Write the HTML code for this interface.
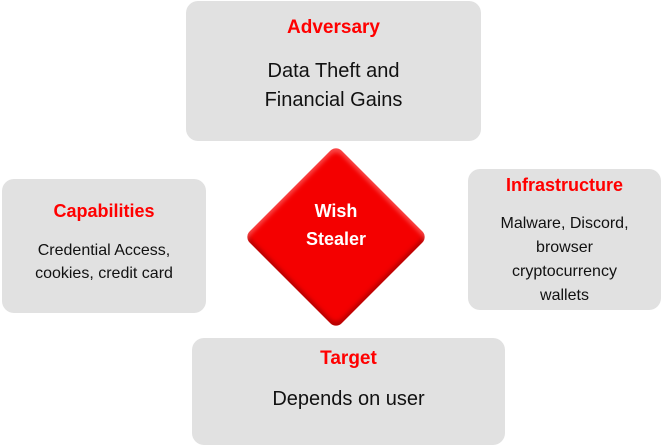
<!DOCTYPE html>
<html><head><style>
body{margin:0;width:662px;height:446px;background:#fff;position:relative;font-family:"Liberation Sans",sans-serif;overflow:hidden}
.b{position:absolute;background:#e1e1e1;border-radius:12px;text-align:center;color:#111}
.t{color:#f00;font-weight:bold;position:absolute;left:0;right:0}
.d{position:absolute;left:0;right:0}
</style></head><body>
<div class="b" style="left:186px;top:1px;width:295px;height:140px">
 <div class="t" style="top:16px;font-size:19px">Adversary</div>
 <div class="d" style="top:56px;font-size:20px;line-height:29px">Data Theft and<br>Financial Gains</div>
</div>
<div class="b" style="left:2px;top:179px;width:204px;height:134px">
 <div class="t" style="top:22px;font-size:18px">Capabilities</div>
 <div class="d" style="top:60px;font-size:16px;line-height:23px">Credential Access,<br>cookies, credit card</div>
</div>
<div class="b" style="left:468px;top:169px;width:193px;height:141px">
 <div class="t" style="top:6px;font-size:18px">Infrastructure</div>
 <div class="d" style="top:43px;font-size:16px;line-height:24px">Malware, Discord,<br>browser<br>cryptocurrency<br>wallets</div>
</div>
<div class="b" style="left:192px;top:338px;width:313px;height:107px">
 <div class="t" style="top:10px;font-size:19px">Target</div>
 <div class="d" style="top:50px;font-size:20px">Depends on user</div>
</div>
<div style="position:absolute;left:271px;top:172px;width:130px;height:130px;background:#f40000;border-radius:8px;transform:rotate(45deg);box-shadow:inset 3px 3px 4px rgba(255,120,120,.6),inset -3px -3px 4px rgba(120,0,0,.5)"></div>
<div style="position:absolute;left:286px;top:197px;width:100px;text-align:center;color:#fff;font-weight:bold;font-size:18px;line-height:28px">Wish<br>Stealer</div>
</body></html>
